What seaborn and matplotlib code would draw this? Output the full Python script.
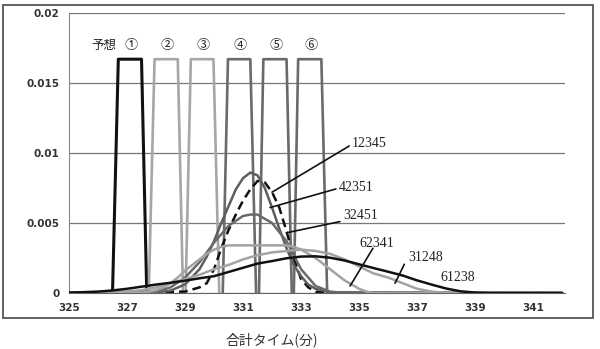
import matplotlib
matplotlib.use("Agg")
import matplotlib.pyplot as plt
import numpy as np
import pandas as pd
import seaborn as sns
from matplotlib.patches import Rectangle

# forecast boxes (予想 ①-⑥): x of bottom-left, top-left, top-right, bottom-right
BOX_LABELS = ["①", "②", "③", "④", "⑤", "⑥"]
BOX_X = [
    [326.50, 326.70, 327.50, 327.68],
    [327.75, 327.95, 328.75, 328.93],
    [329.02, 329.20, 329.98, 330.18],
    [330.30, 330.48, 331.25, 331.45],
    [331.55, 331.70, 332.50, 332.68],
    [332.75, 332.90, 333.70, 333.90],
]
BOX_Y = [0, 0.0167, 0.0167, 0]
BOX_COLORS = ["#111111", "#a6a6a6", "#a6a6a6", "#6a6a6a", "#6a6a6a", "#6a6a6a"]

# finishing-time distributions per order
X_12345 = [325.0, 329.0, 329.5, 329.75, 330.0, 330.25, 330.5, 330.75, 331.0, 331.25,
           331.5, 331.75, 332.0, 332.25, 332.5, 332.75, 333.0, 333.25, 333.5, 334.0, 342.0]
Y_12345 = [0.0, 0.0001, 0.0004, 0.0007, 0.0017, 0.0032, 0.0045, 0.0056, 0.0066, 0.0074,
           0.0080, 0.0079, 0.0072, 0.0061, 0.0044, 0.0025, 0.0010, 0.0004, 0.0001, 0.0, 0.0]

X_42351 = [325.0, 328.0, 328.5, 329.0, 329.5, 329.75, 330.0, 330.25, 330.5, 330.75, 331.0,
           331.25, 331.5, 331.75, 332.0, 332.25, 332.5, 332.75, 333.0, 333.25, 333.5,
           334.0, 342.0]
Y_42351 = [0.0, 0.00003, 0.00017, 0.00061, 0.0017, 0.0026, 0.0037, 0.0050, 0.0062, 0.0074,
           0.0082, 0.0086, 0.0084, 0.0075, 0.0061, 0.0046, 0.0032, 0.0020, 0.0012, 0.0006,
           0.0003, 0.00005, 0.0]

X_32451 = [325.0, 328.0, 328.5, 329.0, 329.5, 330.0, 330.5, 331.0, 331.25, 331.5, 332.0,
           332.5, 333.0, 333.5, 334.0, 334.5, 342.0]
Y_32451 = [0.0, 0.0001, 0.0004, 0.0011, 0.0022, 0.0036, 0.0048, 0.0055, 0.0056, 0.0056,
           0.0050, 0.0037, 0.0017, 0.0005, 0.0001, 0.0, 0.0]

X_62341 = [325.0, 327.5, 327.75, 328.0, 328.25, 328.5, 328.75, 329.0, 329.25, 329.5, 329.75,
           330.0, 330.25, 330.5, 331.0, 332.0, 332.5, 332.75, 333.0, 333.25, 333.5, 333.75,
           334.0, 334.25, 334.5, 334.75, 335.0, 335.25, 335.5, 342.0]
Y_62341 = [0.0, 0.0, 0.0001, 0.0002, 0.0004, 0.0007, 0.0011, 0.0016, 0.0020, 0.0024, 0.0028,
           0.0031, 0.0033, 0.0034, 0.0034, 0.0034, 0.0034, 0.0033, 0.0031, 0.0028, 0.0025,
           0.0021, 0.0017, 0.0013, 0.0009, 0.0006, 0.0003, 0.0001, 0.0, 0.0]

X_31248 = [325.0, 327.0, 327.5, 328.0, 328.5, 329.0, 329.5, 330.0, 330.5, 331.0, 331.5,
           332.0, 332.5, 333.0, 333.5, 334.0, 334.5, 335.0, 335.5, 336.0, 336.5, 337.0,
           337.5, 338.0, 342.0]
Y_31248 = [0.0, 0.0001, 0.0002, 0.0004, 0.0007, 0.0010, 0.0013, 0.0017, 0.0020, 0.0024,
           0.0027, 0.0029, 0.0030, 0.0031, 0.0030, 0.0028, 0.0024, 0.0019, 0.0014, 0.0011,
           0.0007, 0.0003, 0.0001, 0.0, 0.0]

X_61238 = [325.0, 325.5, 326.0, 326.5, 327.0, 327.5, 328.0, 328.5, 329.0, 329.5, 330.0,
           330.5, 331.0, 331.5, 332.0, 332.5, 333.0, 333.5, 334.0, 334.5, 335.0, 335.5,
           336.0, 336.5, 337.0, 337.5, 338.0, 338.5, 339.0, 339.5, 342.0]
Y_61238 = [0.00003, 0.00006, 0.0001, 0.00018, 0.0003, 0.00045, 0.0006, 0.00073, 0.00088,
           0.00105, 0.0012, 0.0015, 0.0018, 0.0021, 0.00228, 0.00248, 0.0026, 0.00262,
           0.00252, 0.00232, 0.00205, 0.00178, 0.00152, 0.00125, 0.0009, 0.0006, 0.00032,
           0.00012, 0.00003, 0.0, 0.0]

X_TICKS = [325, 327, 329, 331, 333, 335, 337, 339, 341]
Y_TICKS = [0, 0.005, 0.01, 0.015, 0.02]
Y_TICKLABELS = ["0", "0.005", "0.01", "0.015", "0.02"]

CURVES = [
    ("12345", X_12345, Y_12345, "#111111", (0, (3.5, 2))),
    ("42351", X_42351, Y_42351, "#5e5e5e", "-"),
    ("32451", X_32451, Y_32451, "#6a6a6a", "-"),
    ("62341", X_62341, Y_62341, "#a3a3a3", "-"),
    ("31248", X_31248, Y_31248, "#a3a3a3", "-"),
    ("61238", X_61238, Y_61238, "#111111", "-"),
]

# label text position and pointer target (None = no pointer)
ANNOT = {
    "12345": ((334.75, 0.0107), (334.66, 0.0105), (332.0, 0.0072)),
    "42351": ((334.3, 0.00757), (334.2, 0.00743), (331.93, 0.0061)),
    "32451": ((334.45, 0.00557), (334.34, 0.0051), (332.5, 0.0043)),
    "62341": ((335.0, 0.00357), (335.48, 0.0032), (334.69, 0.0005)),
    "31248": ((336.68, 0.0025), (336.56, 0.00205), (336.24, 0.0007)),
    "61238": ((337.8, 0.00114), None, None),
}

sns.set_style("white")
plt.rcParams["font.family"] = ["DejaVu Sans"]
JP = ["Noto Sans CJK JP", "DejaVu Sans"]

fig = plt.figure(figsize=(6, 3.49), dpi=100)
ax = fig.add_axes([0.115, 0.1605, 0.8267, 0.8023])

# outer chart-area frame
fig.patches.append(Rectangle((0.005, 0.089), 0.983, 0.897, transform=fig.transFigure,
                             fill=False, edgecolor="#555555", linewidth=1.3))

for label, bx, color in zip(BOX_LABELS, BOX_X, BOX_COLORS):
    lw = 2.2 if color == "#111111" else 1.9
    sns.lineplot(x=bx, y=BOX_Y, ax=ax, color=color, linewidth=lw,
                 sort=False, estimator=None, zorder=3)
    ax.text((bx[1] + bx[2]) / 2 + 0.05, 0.0172, label, ha="center", va="bottom",
            fontsize=9.5, family=JP, color="#222222")
ax.text(BOX_X[0][0] - 0.3, 0.0172, "予想", ha="center", va="bottom",
        fontsize=9, family=JP, color="#222222")

for name, xs, ys, color, ls in CURVES:
    sns.lineplot(x=xs, y=ys, ax=ax, color=color, linewidth=1.8, linestyle=ls,
                 sort=False, estimator=None, zorder=4)

for name, (tpos, p0, p1) in ANNOT.items():
    ax.text(tpos[0], tpos[1], name, ha="left", va="center", fontsize=10,
            family="Liberation Serif", color="#222222")
    if p0 is not None:
        ax.plot([p0[0], p1[0]], [p0[1], p1[1]], color="#111111", linewidth=1.2, zorder=6)

ax.set_xlim(325, 342.1)
ax.set_ylim(0, 0.02)
ax.set_xticks(X_TICKS)
ax.set_yticks(Y_TICKS)
ax.set_yticklabels(Y_TICKLABELS)
ax.grid(axis="y", color="#777777", linewidth=0.9)
ax.grid(axis="x", visible=False)
ax.set_axisbelow(True)
for side in ["top", "right"]:
    ax.spines[side].set_visible(False)
ax.spines["left"].set_color("#888888")
ax.spines["bottom"].set_color("#666666")
ax.tick_params(axis="both", direction="out", length=3, width=0.8, color="#777777",
               labelsize=7.5, labelcolor="#333333", pad=4)
for t in ax.get_xticklabels() + ax.get_yticklabels():
    t.set_fontweight("bold")

fig.text(0.453, 0.027, "合計タイム(分)", ha="center", va="center", fontsize=10,
         family=JP, color="#333333")

fig.savefig("out.png", dpi=100)
plt.close(fig)
